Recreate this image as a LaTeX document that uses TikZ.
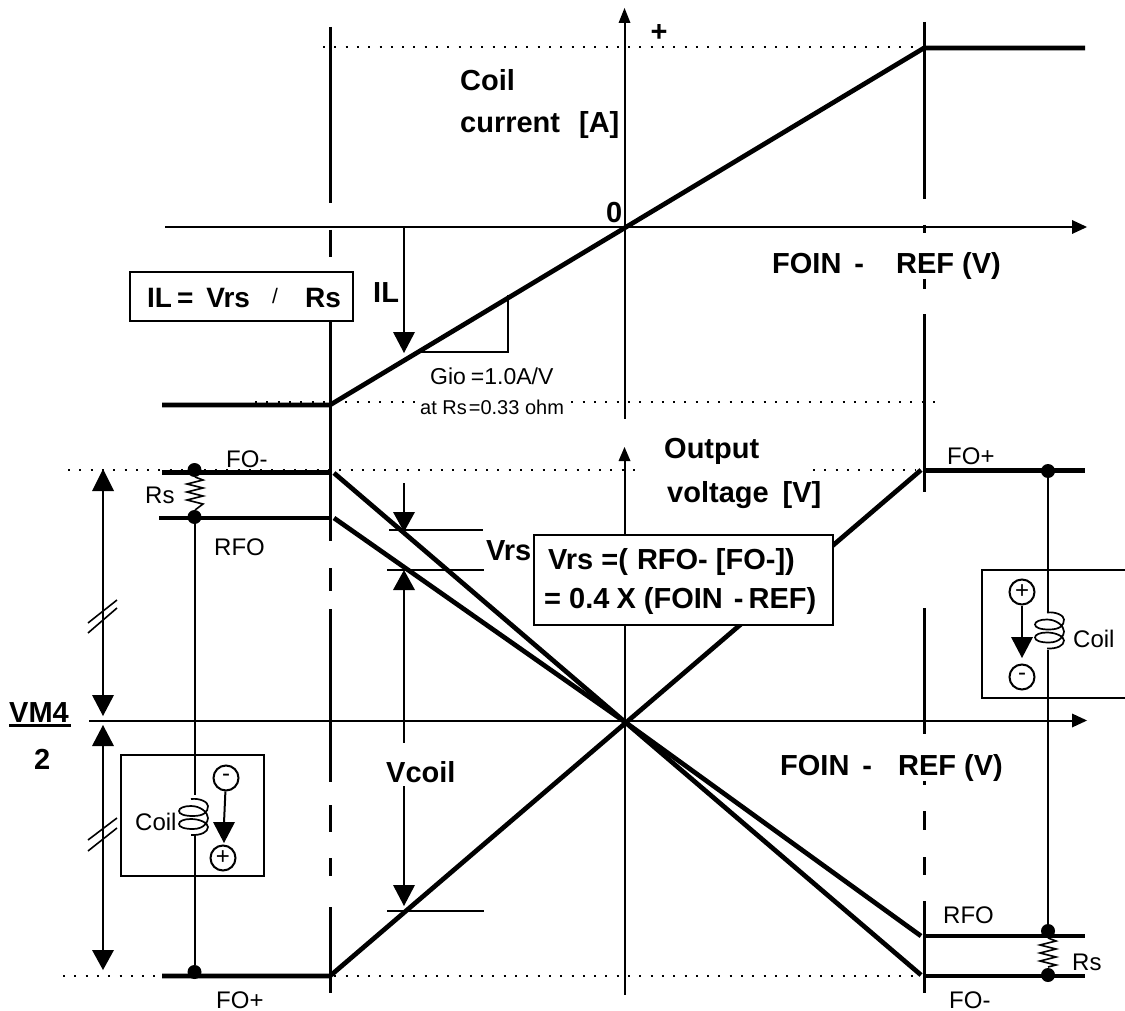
\documentclass[tikz,border=0pt]{standalone}
\usepackage{fontspec}
\setmainfont{Liberation Sans}
\newcommand{\bfs}{\bfseries\fontsize{29}{29}\selectfont}
\newcommand{\rgs}{\fontsize{24}{24}\selectfont}
\tikzset{
  x=1pt,y=-1pt,
  thick line/.style={line width=4.7pt,line cap=butt,line join=miter},
  thin line/.style={line width=2pt},
  dash seg/.style={line width=3pt},
  dots/.style={line width=2pt,dash pattern=on 2pt off 9.3pt},
  bold text/.style={anchor=base west,inner sep=0pt,font=\bfs},
  plain text/.style={anchor=base west,inner sep=0pt,font=\rgs},
  dot/.style={circle,fill=black,inner sep=0pt,minimum size=14pt},
  pole/.style={circle,draw,line width=2pt,fill=white,inner sep=0pt,minimum size=25pt,font=\rgs},
  panel/.style={draw,line width=2pt,fill=white},
}
\newcommand{\bigtri}[3]{\fill (#1,#2) -- (#1-11,#3) -- (#1+11,#3) -- cycle;}
\newcommand{\zig}[3]{\draw[line width=1.6pt,line join=miter] (#1,#2)
  -- ++(8,3) -- ++(-16,4) -- ++(16,4) -- ++(-16,4) -- ++(16,4) -- ++(-16,4) -- ++(16,4) -- (#1,#3);}
\newcommand{\coilshape}[2]{\begin{scope}[shift={(#1,#2)}]
  \draw[line width=1.7pt] (12,0) .. controls (21,-1) and (29,3) .. (29,7)
  .. controls (29,13) and (25,17) .. (14,17) .. controls (5,17) and (0,15) .. (0,12)
  .. controls (0,9) and (5,7) .. (12,7) .. controls (21,7) and (29,13) .. (29,19)
  .. controls (29,23) and (25,30) .. (14,30) .. controls (5,30) and (0,28) .. (0,25)
  .. controls (0,22) and (5,20) .. (12,20) .. controls (21,20) and (29,24) .. (29,28)
  .. controls (29,33) and (22,36.5) .. (12,36);
\end{scope}}
\begin{document}
\begin{tikzpicture}
\useasboundingbox (0,0) rectangle (1125,1011);
% dotted guides
\draw[dots] (323,47) -- (980,47);
\draw[dots] (255,402) -- (935,402);
\draw[dots] (68,470) -- (636,470);
\draw[dots] (813,470) -- (915,470);
\draw[dots] (63,976) -- (915,976);
% axes
\coordinate (axTop) at (624.5,23);
\coordinate (axTopEnd) at (624.5,419);
\coordinate (axLow) at (624.5,460);
\coordinate (axLowEnd) at (624.5,995);
\draw[thin line] (axTop) -- (axTopEnd);
\draw[thin line] (axLow) -- (axLowEnd);
\fill (624.5,8) -- (618.5,23) -- (630.5,23) -- cycle;
\fill (624.5,447) -- (618.5,461) -- (630.5,461) -- cycle;
\coordinate (h1a) at (165,227); \coordinate (h1b) at (1073,227);
\coordinate (h2a) at (89,720.5); \coordinate (h2b) at (1073,720.5);
\draw[thin line] (h1a) -- (h1b);
\draw[thin line] (h2a) -- (h2b);
\fill (1087,227) -- (1072,220) -- (1072,234) -- cycle;
\fill (1087,720.5) -- (1072,713.5) -- (1072,727.5) -- cycle;
% dashed verticals
\foreach \a/\b in {27/203,230/257,282/541,568/591,609/782,805/832,858/876,907/993}
  \draw[dash seg] (330.5,\a) -- (330.5,\b);
\draw[thin line,line width=2.4pt] (924.5,22) -- (924.5,199);
\foreach \a/\b in {225/233,279/289,314/492,608/734,781/785,811/830,857/875,901/993}
  \draw[thin line,line width=2.4pt] (924.5,\a) -- (924.5,\b);
% current curve
\draw[thick line] (162,405) -- (330,405) -- (924,48) -- (1085,48);
% output curves
\draw[thick line] (162,472.5) -- (330,472.5);
\draw[thick line] (159,518) -- (329,518);
\draw[thick line] (334,473) -- (625,722) -- (921,975);
\draw[thick line] (334,518) -- (625,722) -- (921,936);
\draw[thick line] (162,976) -- (330,976) -- (921,470);
\draw[thick line] (924,470.5) -- (1085,470.5);
\draw[thick line] (924,936) -- (1085,936);
\draw[thick line] (924,976) -- (1085,976);
% formula box IL
\node[panel,minimum width=223pt,minimum height=49pt,inner sep=0pt] (ilbox) at (241.5,296.5) {};
\node[anchor=base west,inner sep=0pt,font=\bfseries\fontsize{28}{28}\selectfont] (ilf) at (147,308) {IL\hspace{5pt}=\hspace{13pt}Vrs};
\node[anchor=base west,inner sep=0pt,font=\fontsize{21}{21}\selectfont] (ilslash) at (272,303) {/};
\node[anchor=base west,inner sep=0pt,font=\bfseries\fontsize{28}{28}\selectfont] (ilrs) at (305,308) {Rs};
% labels upper
\node[bold text] (coil) at (460,91) {Coil};
\node[bold text] (curr) at (460,133) {current\hspace{19pt}[A]};
\node[bold text,anchor=center] (plus) at (659,33) {+};
\node[bold text] (zero) at (606,223) {0};
\node[bold text] (foin1) at (772,273) {FOIN\hspace{13pt}-\hspace{32pt}REF (V)};
\node[bold text] (foin2) at (780,775) {FOIN\hspace{13pt}-\hspace{26pt}REF (V)};
\node[bold text] (il) at (373,302) {IL};
% IL arrow
\coordinate (ilTop) at (404,227); \coordinate (ilBase) at (404,333);
\draw[thin line] (ilTop) -- (ilBase);
\bigtri{404}{353}{332}
% slope triangle
\draw[line width=2pt,line join=miter] (420,352) -- (507.5,352) -- (507.5,295);
\node[plain text,font=\fontsize{23}{23}\selectfont] (gio) at (430,384) {Gio\hspace{5pt}=1.0A/V};
\node[anchor=base west,inner sep=1pt,fill=white,font=\fontsize{20}{20}\selectfont] (atrs) at (419,414) {at Rs\hspace{2pt}=0.33 ohm};
% output labels
\node[bold text] (out) at (664,458) {Output};
\node[bold text] (volt) at (667,502) {voltage\hspace{14pt}[V]};
\node[plain text] (fom) at (226,467) {FO-};
\node[plain text] (rsl) at (145,503) {Rs};
\node[plain text] (rfol) at (214,555) {RFO};
\node[plain text] (fopl) at (216,1008) {FO+};
\node[plain text] (fopr) at (947,464) {FO+};
\node[plain text] (rfor) at (943,923) {RFO};
\node[plain text] (rsr) at (1072,970) {Rs};
\node[plain text] (fomr) at (949,1008) {FO-};
% VM4/2
\node[bold text] (vm) at (9,722) {VM4};
\draw[line width=2.2pt] (vm.base west) ++(0,3.5) -- ++(62,0);
\node[bold text] (two) at (34,769) {2};
% rail arrows
\coordinate (r1a) at (103,490); \coordinate (r1b) at (103,696);
\coordinate (r2a) at (103,745); \coordinate (r2b) at (103,951);
\draw[thin line] (r1a) -- (r1b);
\draw[thin line] (r2a) -- (r2b);
\fill (103,469) -- (92,491) -- (114,491) -- cycle;
\fill (103,716) -- (92,695) -- (114,695) -- cycle;
\fill (103,725) -- (92,746) -- (114,746) -- cycle;
\fill (103,970) -- (92,950) -- (114,950) -- cycle;
\foreach \ya/\yb in {623/600,633/608,840/818,851/828}
  \draw[line width=1.6pt] (88,\ya) -- (117,\yb);
% left coil panel
\node[panel,minimum width=143pt,minimum height=121pt,inner sep=0pt] (boxl) at (192.5,815.5) {};
\node[dot] (d1) at (194.5,470) {};
\node[dot] (d2) at (194.5,517) {};
\node[dot] (d3) at (194.5,972) {};
\zig{195}{477}{510}
\coordinate (lc1) at (194.5,795); \coordinate (lc2) at (194.5,835);
\draw[thin line] (d2) -- (lc1);
\draw[thin line] (lc2) -- (d3);
\coilshape{179}{799}
\node[plain text] (coilL) at (135,830) {Coil};
\node[pole] (mn1) at (226,778) {-};
\node[pole] (pl1) at (223,858) {+};
\draw[thin line] (mn1) -- (224,823);
\bigtri{224}{843}{822}
% right coil panel
\draw[panel,fill=white] (1125,570) -- (982,570) -- (982,698) -- (1125,698);
\node[dot] (d4) at (1048,471) {};
\node[dot] (d5) at (1048,931) {};
\node[dot] (d6) at (1048,975) {};
\zig{1048}{938}{967}
\coordinate (rc1) at (1048,612); \coordinate (rc2) at (1048,650);
\draw[thin line] (d4) -- (rc1);
\draw[thin line] (rc2) -- (d5);
\coilshape{1035}{612.5}
\node[plain text] (coilR) at (1073,647) {Coil};
\node[pole] (pl2) at (1022,592) {+};
\node[pole] (mn2) at (1022,677) {-};
\draw[thin line] (pl2) -- (1022,638);
\bigtri{1022}{658}{637}
% Vrs
\coordinate (vt) at (404,483);
\draw[thin line] (vt) -- (404,513);
\bigtri{404}{532}{512}
\draw[line width=2.6pt] (389,530) -- (483,530);
\draw[line width=1.7pt] (387,570) -- (484,570);
\node[bold text] (vrs) at (486,560) {Vrs};
\bigtri{404}{570}{590}
\node[panel,minimum width=299pt,minimum height=90pt,inner sep=0pt] (vrsbox) at (683.5,580) {};
\node[anchor=base west,inner sep=0pt,font=\bfseries\fontsize{29}{29}\selectfont] (l1) at (548,569) {Vrs =(\hspace{9pt}RFO- [FO-])};
\node[anchor=base west,inner sep=0pt,font=\bfseries\fontsize{29}{29}\selectfont] (l2) at (544,608) {= 0.4\hspace{-1pt} X (FOIN\hspace{3pt} -\hspace{5pt}REF)};
% Vcoil
\draw[thin line] (404,590) -- (404,743);
\draw[thin line] (404,786) -- (404,886);
\bigtri{404}{906}{885}
\draw[line width=1.7pt] (387,911) -- (484,911);
\node[bold text] (vcoil) at (386,782) {Vcoil};
\end{tikzpicture}
\end{document}
